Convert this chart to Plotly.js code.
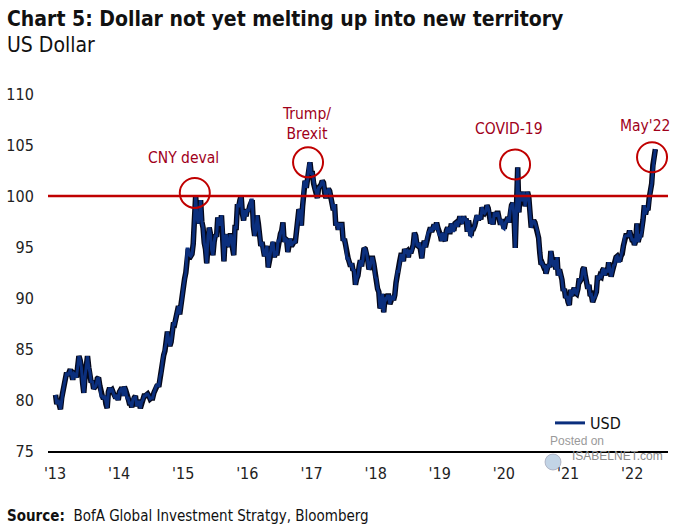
<!DOCTYPE html>
<html>
<head>
<meta charset="utf-8">
<script src="https://cdn.plot.ly/plotly-3.0.1.min.js"></script>
<style>
  html, body { margin: 0; padding: 0; background: #ffffff; }
  #chart { width: 700px; height: 530px; }
</style>
</head>
<body>
<div id="chart"></div>
<script>
// Weekly US Dollar index readings (Friday closes), starting Friday 4 Jan 2013
const firstWeek = '2013-01-04';
const usd2013 = [80.5, 79.6, 80.0, 79.7, 79.1, 80.2, 80.8, 81.5, 82.3, 82.7, 82.4, 82.6, 83.0,
  82.5, 82.0, 82.6, 82.5, 82.2, 83.2, 84.3, 83.9, 83.2, 81.7, 80.7, 82.3, 83.1,
  84.3, 83.2, 82.7, 81.7, 81.9, 81.1, 81.3, 81.4, 82.1, 82.2, 81.4, 80.4, 80.4,
  80.1, 80.4, 79.6, 79.2, 80.8, 81.2, 80.9, 81.0, 80.7, 80.3, 80.2, 80.5, 80.0];
const usd2014 = [80.8, 81.0, 81.2, 80.4, 81.3, 81.0, 80.2, 80.2, 79.7, 79.7, 79.3, 80.1, 80.2,
  80.4, 79.4, 79.8, 79.8, 79.2, 79.8, 80.0, 80.4, 80.4, 80.6, 80.6, 80.4, 80.1,
  80.2, 80.2, 80.7, 81.0, 81.4, 81.5, 81.3, 82.3, 82.7, 83.9, 84.4, 84.8, 85.6,
  86.7, 85.9, 85.3, 85.7, 87.0, 87.6, 87.5, 88.0, 88.4, 89.2, 88.4, 89.6, 90.1];
const usd2015 = [91.1, 91.9, 92.5, 94.8, 94.8, 94.2, 94.1, 94.3, 95.3, 97.7, 100.0, 97.9, 97.3,
  98.2, 99.6, 97.5, 96.9, 95.4, 94.8, 93.4, 96.1, 96.9, 96.3, 94.7, 94.2, 95.5,
  96.2, 96.0, 97.9, 97.2, 97.2, 98.1, 96.6, 93.6, 96.0, 96.2, 95.2, 95.1, 96.1,
  96.1, 94.9, 94.2, 96.9, 96.9, 99.2, 98.9, 99.6, 100.0, 98.3, 97.6, 98.6, 98.0];
const usd2016 = [98.7, 98.5, 99.0, 99.6, 99.6, 97.0, 96.1, 96.6, 98.1, 97.3, 96.2, 95.1, 95.5,
  94.6, 94.1, 94.6, 95.1, 93.0, 93.8, 94.6, 95.3, 95.5, 94.0, 94.6, 94.2, 95.6,
  95.6, 96.3, 96.6, 97.4, 95.5, 95.8, 95.7, 94.5, 95.5, 95.8, 95.1, 95.4, 95.5, 95.4,
  96.6, 98.0, 98.7, 98.4, 97.1, 99.0, 101.2, 101.5, 100.8, 101.6, 103.0, 103.3, 102.2];
const usd2017 = [102.2, 101.2, 100.7, 100.5, 99.8, 100.8, 100.9, 101.1, 101.5, 101.3, 100.3, 99.8, 100.4,
  100.7, 100.5, 99.8, 99.0, 98.6, 99.2, 97.1, 97.4, 96.7, 97.2, 97.2, 97.2, 95.6,
  95.8, 95.2, 93.9, 93.9, 93.5, 93.1, 93.4, 92.7, 92.8, 91.3, 91.9, 92.2, 93.1,
  93.7, 93.1, 93.7, 94.9, 94.8, 94.4, 93.7, 92.8, 93.1, 93.9, 93.9, 93.3, 92.1];
const usd2018 = [91.9, 90.9, 90.6, 89.0, 89.2, 90.4, 88.6, 90.0, 89.9, 90.2, 90.2, 89.4, 90.1,
  90.1, 89.8, 90.3, 91.5, 92.6, 92.6, 93.6, 94.2, 94.2, 93.6, 94.8, 94.5, 94.6,
  94.0, 94.7, 94.4, 94.7, 95.2, 96.4, 96.1, 95.2, 95.1, 95.4, 94.9, 93.9, 95.1,
  95.6, 95.0, 95.7, 96.4, 96.5, 96.9, 96.5, 96.8, 97.2, 96.7, 97.4, 96.9, 96.2];
const usd2019 = [96.2, 95.6, 96.4, 95.8, 95.6, 96.6, 96.9, 96.5, 96.5, 97.3, 96.6, 96.6, 97.3,
  97.4, 97.0, 97.4, 98.0, 97.5, 97.3, 98.0, 97.6, 97.8, 96.5, 97.6, 96.2, 96.1,
  96.8, 96.8, 97.1, 97.9, 98.1, 97.6, 98.1, 97.7, 98.9, 98.4, 98.3, 98.5, 99.1,
  98.8, 98.3, 97.3, 97.8, 97.2, 98.4, 98.0, 98.3, 98.3, 97.7, 97.2, 97.7, 96.9];
const usd2020 = [96.8, 97.4, 97.6, 97.9, 97.4, 98.7, 99.1, 99.3, 98.1, 94.9, 98.7, 102.8, 98.4,
  100.4, 99.5, 99.8, 100.4, 99.0, 99.7, 100.4, 99.9, 98.4, 96.9, 97.3, 97.6, 97.4,
  97.0, 96.6, 95.9, 94.4, 93.3, 93.4, 93.1, 93.2, 92.4, 92.8, 93.3, 93.0, 94.6,
  93.8, 93.1, 93.7, 92.8, 94.0, 92.2, 92.8, 92.4, 91.8, 90.7, 90.9, 90.0, 90.2];
const usd2021 = [89.6, 89.3, 90.8, 90.2, 90.6, 91.0, 90.5, 90.4, 90.9, 91.9, 91.7, 91.9, 92.8,
  93.0, 92.2, 91.6, 90.9, 91.3, 90.2, 90.3, 89.6, 90.0, 90.1, 90.6, 92.2, 91.8,
  92.2, 92.1, 92.7, 92.9, 92.2, 92.8, 92.5, 93.5, 92.7, 92.1, 92.6, 93.2, 93.3,
  94.0, 94.1, 93.6, 93.6, 94.1, 94.3, 95.1, 96.0, 96.1, 96.1, 96.1, 96.6, 96.0, 95.7];
const usd2022 = [95.7, 95.2, 95.6, 97.3, 95.5, 96.1, 96.0, 96.6, 97.7, 99.1, 98.2, 98.8,
  98.6, 99.8, 100.5, 101.2, 103.0, 103.7, 104.6];

const tickVals = ['2013-01-01', '2014-01-01', '2015-01-01', '2016-01-01', '2017-01-01',
  '2018-01-01', '2019-01-01', '2020-01-01', '2021-01-01', '2022-01-01'];
const tickText = ["'13", "'14", "'15", "'16", "'17", "'18", "'19", "'20", "'21", "'22"];
const yTicks = [75, 80, 85, 90, 95, 100, 105, 110];
const threshold = 100;

// Highlighted events: label, label position, circle position
const eventLabels = ['CNY deval', 'Trump/<br>Brexit', 'COVID-19', "May'22"];
const eventLabelX = ['2015-01-01', '2016-12-01', '2020-01-31', '2022-03-16'];
const eventLabelY = [103.7, 107.1, 106.6, 106.9];
const eventCircleX = ['2015-03-08', '2016-12-12', '2020-03-05', '2022-04-24'];
const eventCircleY = [100.3, 103.3, 103.1, 103.8];

const usd = [].concat(usd2013, usd2014, usd2015, usd2016, usd2017, usd2018,
  usd2019, usd2020, usd2021, usd2022);
const start = new Date(firstWeek + 'T00:00:00Z').getTime();
const dates = usd.map((v, i) => new Date(start + i * 7 * 86400000).toISOString().slice(0, 10));

const FONT = "'Liberation Sans Narrow', 'DejaVu Sans Condensed', 'Arial Narrow', sans-serif";
const RED = '#c00000';
const DARKRED = '#a0001a';

const traces = [
  { x: dates, y: usd, type: 'scatter', mode: 'lines', name: 'USD', showlegend: false,
    hoverinfo: 'skip', line: { color: '#05081a', width: 5.5 } },
  { x: dates, y: usd, type: 'scatter', mode: 'lines', name: 'USD',
    line: { color: '#0b2f7d', width: 3 } }
];

const shapes = [
  { type: 'line', xref: 'paper', x0: 0, x1: 1, yref: 'y', y0: threshold, y1: threshold,
    line: { color: RED, width: 2.5 }, layer: 'above' }
];
eventCircleX.forEach((cx, i) => {
  shapes.push({ type: 'circle', xref: 'x', yref: 'y', xsizemode: 'pixel', ysizemode: 'pixel',
    xanchor: cx, yanchor: eventCircleY[i], x0: -15, x1: 15, y0: -15, y1: 15,
    line: { color: RED, width: 2 }, layer: 'above' });
});
// watermark logo
shapes.push({ type: 'circle', xref: 'paper', yref: 'paper', xsizemode: 'pixel', ysizemode: 'pixel',
  xanchor: (553 - 48) / 620, yanchor: (451 - 462) / 357, x0: -8, x1: 8, y0: -8, y1: 8,
  fillcolor: 'rgba(120,160,200,0.45)', line: { color: 'rgba(150,150,170,0.6)', width: 1 } });

const annotations = eventLabels.map((t, i) => ({
  text: t, x: eventLabelX[i], y: eventLabelY[i], xref: 'x', yref: 'y', showarrow: false,
  font: { family: FONT, size: 15.5, color: DARKRED }, align: 'center'
}));
annotations.push(
  { text: 'US Dollar', xref: 'paper', yref: 'paper', x: (5 - 48) / 620, y: (451 - 45) / 357,
    xanchor: 'left', yanchor: 'middle', showarrow: false,
    font: { family: FONT, size: 21, color: '#111' } },
  { text: '<b>Source:</b>  BofA Global Investment Stratgy, Bloomberg', xref: 'paper', yref: 'paper',
    x: (5 - 48) / 620, y: (451 - 516) / 357, xanchor: 'left', yanchor: 'middle', showarrow: false,
    font: { family: FONT, size: 15, color: '#111' } },
  { text: 'Posted on', xref: 'paper', yref: 'paper', x: (548 - 48) / 620, y: (451 - 441) / 357,
    xanchor: 'left', yanchor: 'middle', showarrow: false,
    font: { family: 'Liberation Sans, Arial, sans-serif', size: 12, color: '#9a9a9a' } },
  { text: 'ISABELNET.com', xref: 'paper', yref: 'paper', x: (570 - 48) / 620, y: (451 - 456) / 357,
    xanchor: 'left', yanchor: 'middle', showarrow: false,
    font: { family: 'Liberation Sans, Arial, sans-serif', size: 12, color: '#8c8c8c' } }
);

const layout = {
  width: 700, height: 530,
  margin: { l: 48, r: 32, t: 94, b: 79 },
  paper_bgcolor: '#ffffff', plot_bgcolor: '#ffffff',
  font: { family: FONT, size: 16, color: '#222' },
  title: { text: '<b>Chart 5: Dollar not yet melting up into new territory</b>',
    xref: 'container', yref: 'container', x: 7 / 700, y: 1 - 19 / 530,
    xanchor: 'left', yanchor: 'middle', font: { family: FONT, size: 21, color: '#111' } },
  xaxis: {
    type: 'date', range: ['2012-11-22', '2022-07-24'],
    tickvals: tickVals, ticktext: tickText,
    showgrid: false, zeroline: false, showline: true, linecolor: '#000', linewidth: 2,
    ticks: 'outside', ticklen: 7, tickcolor: 'rgba(0,0,0,0)',
    tickfont: { family: FONT, size: 16, color: '#222' }
  },
  yaxis: {
    range: [75, 110], tickvals: yTicks, showgrid: false, zeroline: false, showline: false,
    ticks: 'outside', ticklen: 10, tickcolor: 'rgba(0,0,0,0)',
    tickfont: { family: FONT, size: 16, color: '#222' }
  },
  showlegend: true,
  legend: { x: (550 - 48) / 620, y: (451 - 423) / 357, xanchor: 'left', yanchor: 'middle',
    bgcolor: 'rgba(0,0,0,0)', font: { family: FONT, size: 16, color: '#111' } },
  shapes: shapes,
  annotations: annotations
};

Plotly.newPlot('chart', traces, layout, { displayModeBar: false, staticPlot: true });
</script>
</body>
</html>
